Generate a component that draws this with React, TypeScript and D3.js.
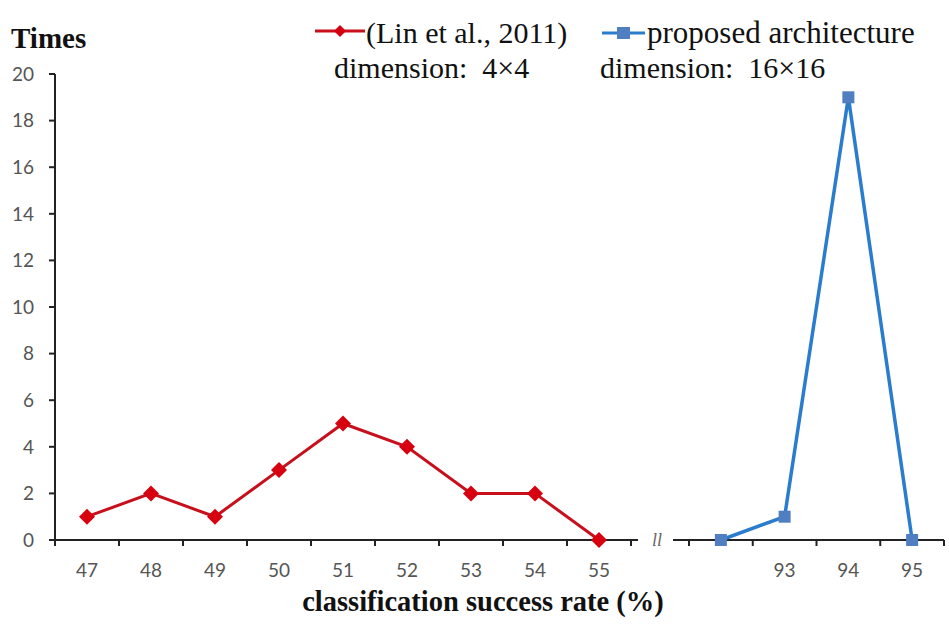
import React from "react";
import * as d3 from "d3";

const leftCategories = ["47", "48", "49", "50", "51", "52", "53", "54", "55"];
const leftValues = [1, 2, 1, 3, 5, 4, 2, 2, 0];
const rightCategories = ["92", "93", "94", "95"];
const rightTickLabels = ["", "93", "94", "95"];
const rightValues = [0, 1, 19, 0];
const yTicks = [0, 2, 4, 6, 8, 10, 12, 14, 16, 18, 20];

const W = 949;
const H = 624;
const RED = "#c8101c";
const RED_MARK = "#d60010";
const BLUE = "#2a7ccc";
const BLUE_MARK = "#4f7fc0";
const AXIS = "#222";
const TICK_TEXT = "#555";
const SANS = "Lato, 'Open Sans', sans-serif";
const SERIF = "'Liberation Serif', 'Times New Roman', serif";

export default function App() {
  const y = d3.scaleLinear().domain([0, 20]).range([540, 74]);
  const xl = d3.scaleBand<string>().domain(leftCategories).range([55, 631]);
  const xr = d3.scaleBand<string>().domain(rightCategories).range([689, 944]);

  const line = d3.line<[number, number]>().x((d) => d[0]).y((d) => d[1]);
  const leftPts: [number, number][] = leftCategories.map((c, i) => [
    (xl(c) as number) + xl.bandwidth() / 2,
    y(leftValues[i]),
  ]);
  const rightPts: [number, number][] = rightCategories.map((c, i) => [
    (xr(c) as number) + xr.bandwidth() / 2,
    y(rightValues[i]),
  ]);
  const y0 = y(0);

  const diamond = (cx: number, cy: number, r: number) =>
    `M${cx},${cy - r}L${cx + r},${cy}L${cx},${cy + r}L${cx - r},${cy}Z`;

  const leftTickXs = leftCategories.map((c) => xl(c) as number).concat([xl.range()[1]]);
  const rightTickXs = rightCategories.map((c) => xr(c) as number).concat([xr.range()[1]]);

  const legendStyle = { whiteSpace: "pre" as const };

  return (
    <svg
      width={W}
      height={H}
      style={{ position: "absolute", left: 0, top: 0, background: "#fff" }}
    >
      {/* Y axis */}
      <line x1={55} x2={55} y1={y(20)} y2={y0} stroke={AXIS} strokeWidth={2} />
      {yTicks.map((t) => (
        <g key={t}>
          <line x1={49} x2={55} y1={y(t)} y2={y(t)} stroke={AXIS} strokeWidth={2} />
          <text
            x={34}
            y={y(t)}
            dy="0.36em"
            textAnchor="end"
            fontFamily={SANS}
            fontSize={19}
            fill={TICK_TEXT}
          >
            {t}
          </text>
        </g>
      ))}
      <text x={11} y={48} fontFamily={SERIF} fontWeight="bold" fontSize={29} fill="#111">
        Times
      </text>

      {/* Left x axis */}
      <line x1={55} x2={638} y1={y0} y2={y0} stroke={AXIS} strokeWidth={2} />
      {leftTickXs.map((tx, i) => (
        <line key={i} x1={tx} x2={tx} y1={y0} y2={y0 + 6} stroke={AXIS} strokeWidth={2} />
      ))}
      {leftCategories.map((c) => (
        <text
          key={c}
          x={(xl(c) as number) + xl.bandwidth() / 2}
          y={570}
          textAnchor="middle"
          dy="0.36em"
          fontFamily={SANS}
          fontSize={19}
          fill={TICK_TEXT}
        >
          {c}
        </text>
      ))}

      {/* Break mark */}
      <text x={657} y={y0} dy="0.36em" textAnchor="middle" fontFamily={SERIF} fontStyle="italic" fontSize={18} fill="#666">
        ll
      </text>

      {/* Right x axis */}
      <line x1={673} x2={944} y1={y0} y2={y0} stroke={AXIS} strokeWidth={2} />
      {rightTickXs.map((tx, i) => (
        <line key={i} x1={tx} x2={tx} y1={y0} y2={y0 + 6} stroke={AXIS} strokeWidth={2} />
      ))}
      {rightCategories.map((c, i) => (
        <text
          key={c}
          x={(xr(c) as number) + xr.bandwidth() / 2}
          y={570}
          textAnchor="middle"
          dy="0.36em"
          fontFamily={SANS}
          fontSize={19}
          fill={TICK_TEXT}
        >
          {rightTickLabels[i]}
        </text>
      ))}

      {/* Red series */}
      <path d={line(leftPts) as string} fill="none" stroke={RED} strokeWidth={3} />
      {leftPts.map(([px, py], i) => (
        <path key={i} d={diamond(px, py, 8)} fill={RED_MARK} />
      ))}

      {/* Blue series */}
      <path d={line(rightPts) as string} fill="none" stroke={BLUE} strokeWidth={3.5} />
      {rightPts.map(([px, py], i) => (
        <rect key={i} x={px - 6} y={py - 6} width={12} height={12} fill={BLUE_MARK} />
      ))}

      {/* Legend */}
      <line x1={315} x2={365} y1={31} y2={31} stroke={RED} strokeWidth={3} />
      <path d={diamond(340, 31, 6)} fill={RED_MARK} />
      <text x={366} y={43} fontFamily={SERIF} fontSize={30} fill="#111" style={legendStyle}>
        (Lin et al., 2011)
      </text>
      <text x={334} y={78} fontFamily={SERIF} fontSize={30} fill="#111" style={legendStyle}>
        dimension:  4×4
      </text>
      <line x1={602} x2={645} y1={33} y2={33} stroke={BLUE} strokeWidth={3} />
      <rect x={617} y={27} width={13} height={12} fill={BLUE_MARK} />
      <text x={647} y={43} fontFamily={SERIF} fontSize={31} fill="#111" style={legendStyle}>
        proposed architecture
      </text>
      <text x={600} y={78} fontFamily={SERIF} fontSize={30} fill="#111" style={legendStyle}>
        dimension:  16×16
      </text>

      {/* X title */}
      <text x={483} y={611} textAnchor="middle" fontFamily={SERIF} fontWeight="bold" fontSize={28.5} fill="#111">
        classification success rate (%)
      </text>
    </svg>
  );
}
